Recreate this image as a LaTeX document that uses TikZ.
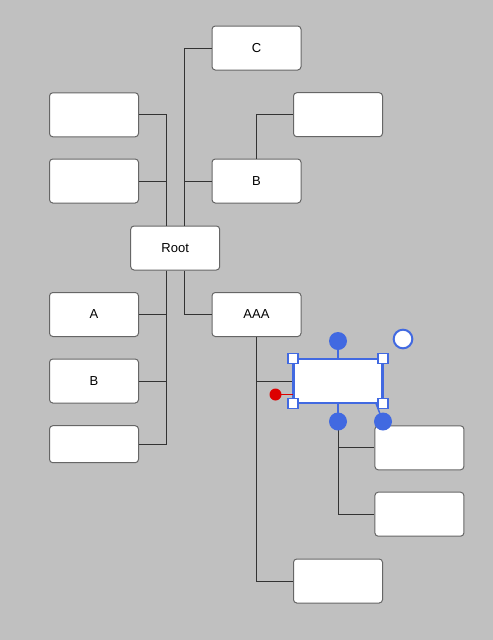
\documentclass[tikz,border=0pt]{standalone}
\usepackage{fontspec}
\setmainfont{Liberation Sans}
\usetikzlibrary{calc}
\definecolor{bg}{HTML}{C0C0C0}
\definecolor{bordergray}{HTML}{666666}
\definecolor{linegray}{HTML}{333333}
\definecolor{selblue}{HTML}{4169E1}
\definecolor{handlered}{HTML}{DD0000}
\tikzset{
  box/.style={draw=bordergray, line width=0.75pt, fill=white, rounded corners=2.5pt,
    minimum width=66.75pt, minimum height=33pt, inner sep=0pt, font=\fontsize{9.75pt}{11.5pt}\selectfont},
  shortbox/.style={box, minimum height=27.75pt},
  selbox/.style={box, draw=selblue, line width=1.9pt, rounded corners=0pt},
  conn/.style={draw=linegray, line width=0.75pt},
  sqhandle/.style={draw=selblue, line width=1.1pt, fill=white, minimum size=7.2pt, inner sep=0pt},
  dothandle/.style={circle, fill=selblue, minimum size=13.5pt, inner sep=0pt},
  rothandle/.style={circle, draw=selblue, line width=1.5pt, fill=white, minimum size=14pt, inner sep=0pt},
  redhandle/.style={circle, fill=handlered, minimum size=9pt, inner sep=0pt},
}
\begin{document}
\begin{tikzpicture}[x=0.75pt, y=-0.75pt]
\fill[bg] (0,0) rectangle (493,640);
\useasboundingbox (0,0) rectangle (493,640);

\node[box] (C) at (256.5,48) {C};
\node[box] (TR) at (338,114.7) {};
\node[box] (B) at (256.5,181) {B};
\node[box] (L1) at (94,114.8) {};
\node[box] (L2) at (94,181) {};
\node[box] (root) at (175.2,248) {Root};
\node[box] (A) at (94,314.5) {A};
\node[box] (BL) at (94,381) {B};
\node[shortbox] (LB) at (94,444.2) {};
\node[box] (AAA) at (256.5,314.5) {AAA};
\node[box] (R1) at (419.4,447.8) {};
\node[box] (R2) at (419.4,514.2) {};
\node[box] (BOT) at (338,581) {};
\node[box] (SEL) at (338,381) {};

% connectors
\draw[conn] ([xshift=-6.75pt]root.north) |- (L1.east);
\draw[conn] ([xshift=-6.75pt]root.north) |- (L2.east);
\draw[conn] ([xshift=6.75pt]root.north) |- (C.west);
\draw[conn] ([xshift=6.75pt]root.north) |- (B.west);
\draw[conn] (B.north) |- (TR.west);
\draw[conn] ([xshift=-6.75pt]root.south) |- (A.east);
\draw[conn] ([xshift=-6.75pt]root.south) |- (BL.east);
\draw[conn] ([xshift=-6.75pt]root.south) |- (LB.east);
\draw[conn] ([xshift=6.75pt]root.south) |- (AAA.west);
\draw[conn] (AAA.south) |- (SEL.west);
\draw[conn] (AAA.south) |- (BOT.west);
\draw[conn] (SEL.south) |- (R1.west);
\draw[conn] (SEL.south) |- (R2.west);

% selected box redrawn on top
\node[selbox] (SEL2) at (SEL) {};

% selection handles
\coordinate (topc) at ($(SEL.north)+(0,-17.5)$);
\coordinate (botc) at ($(SEL.south)+(0,18)$);
\coordinate (brc) at ($(SEL.south east)+(0,18)$);
\coordinate (rotc) at ($(SEL.north east)+(20,-19.5)$);
\coordinate (redc) at ($(SEL.south west)+(-17.5,-9)$);
\draw[selblue, line width=1.1pt] (SEL.north) -- (topc);
\draw[selblue, line width=1.1pt] (SEL.south) -- (botc);
\draw[selblue, line width=1.1pt] ($(SEL.south east)+(-7,0)$) -- (brc);
\draw[handlered, line width=0.75pt] (redc) -- (redc -| SEL.west);
\node[dothandle] (h1) at (topc) {};
\node[dothandle] (h2) at (botc) {};
\node[dothandle] (h3) at (brc) {};
\node[rothandle] (h4) at (rotc) {};
\node[redhandle] (h5) at (redc) {};
\node[sqhandle] (s1) at (SEL.north west) {};
\node[sqhandle] (s2) at (SEL.north east) {};
\node[sqhandle] (s3) at (SEL.south west) {};
\node[sqhandle] (s4) at (SEL.south east) {};
\end{tikzpicture}
\end{document}
